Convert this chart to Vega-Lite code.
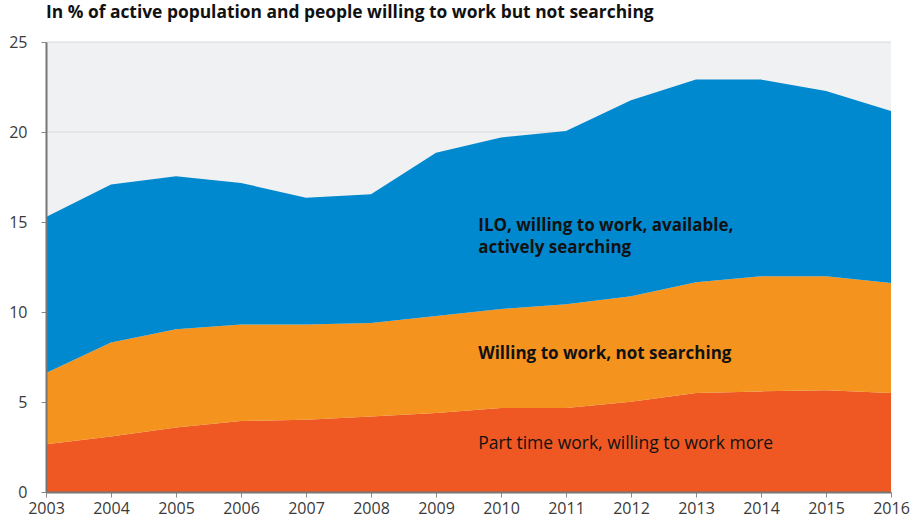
{
  "$schema": "https://vega.github.io/schema/vega-lite/v6.json",
  "autosize": {"type": "none"},
  "width": 845,
  "height": 450,
  "padding": {"left": 46, "top": 42, "right": 26, "bottom": 31},
  "background": "#ffffff",
  "config": {
    "font": "Open Sans",
    "view": {"fill": "#f0f1f3", "stroke": null}
  },
  "title": {
    "text": "In % of active population and people willing to work but not searching",
    "anchor": "start",
    "frame": "group",
    "font": "Open Sans",
    "fontSize": 17.4,
    "fontWeight": "bold",
    "color": "#111111",
    "offset": 13
  },
  "datasets": {
    "grid": [{"g": 5}, {"g": 10}, {"g": 15}, {"g": 20}, {"g": 25}],
    "labels": [
      {"label": "ILO, willing to work, available,", "lx": 2009.65, "ly": 14.8},
      {"label": "actively searching", "lx": 2009.65, "ly": 13.55},
      {"label": "Willing to work, not searching", "lx": 2009.65, "ly": 7.65}
    ],
    "labels2": [
      {"label": "Part time work, willing to work more", "lx": 2009.65, "ly": 2.65}
    ],
    "series": [
      {"year": 2003, "series": "Part time work, willing to work more", "rank": 1, "value": 2.65},
      {"year": 2004, "series": "Part time work, willing to work more", "rank": 1, "value": 3.09},
      {"year": 2005, "series": "Part time work, willing to work more", "rank": 1, "value": 3.59},
      {"year": 2006, "series": "Part time work, willing to work more", "rank": 1, "value": 3.94},
      {"year": 2007, "series": "Part time work, willing to work more", "rank": 1, "value": 4.02},
      {"year": 2008, "series": "Part time work, willing to work more", "rank": 1, "value": 4.2},
      {"year": 2009, "series": "Part time work, willing to work more", "rank": 1, "value": 4.39},
      {"year": 2010, "series": "Part time work, willing to work more", "rank": 1, "value": 4.67},
      {"year": 2011, "series": "Part time work, willing to work more", "rank": 1, "value": 4.67},
      {"year": 2012, "series": "Part time work, willing to work more", "rank": 1, "value": 5.02},
      {"year": 2013, "series": "Part time work, willing to work more", "rank": 1, "value": 5.5},
      {"year": 2014, "series": "Part time work, willing to work more", "rank": 1, "value": 5.59},
      {"year": 2015, "series": "Part time work, willing to work more", "rank": 1, "value": 5.65},
      {"year": 2016, "series": "Part time work, willing to work more", "rank": 1, "value": 5.5},
      {"year": 2003, "series": "Willing to work, not searching", "rank": 2, "value": 3.96},
      {"year": 2004, "series": "Willing to work, not searching", "rank": 2, "value": 5.21},
      {"year": 2005, "series": "Willing to work, not searching", "rank": 2, "value": 5.45},
      {"year": 2006, "series": "Willing to work, not searching", "rank": 2, "value": 5.36},
      {"year": 2007, "series": "Willing to work, not searching", "rank": 2, "value": 5.28},
      {"year": 2008, "series": "Willing to work, not searching", "rank": 2, "value": 5.19},
      {"year": 2009, "series": "Willing to work, not searching", "rank": 2, "value": 5.39},
      {"year": 2010, "series": "Willing to work, not searching", "rank": 2, "value": 5.5},
      {"year": 2011, "series": "Willing to work, not searching", "rank": 2, "value": 5.76},
      {"year": 2012, "series": "Willing to work, not searching", "rank": 2, "value": 5.85},
      {"year": 2013, "series": "Willing to work, not searching", "rank": 2, "value": 6.15},
      {"year": 2014, "series": "Willing to work, not searching", "rank": 2, "value": 6.39},
      {"year": 2015, "series": "Willing to work, not searching", "rank": 2, "value": 6.33},
      {"year": 2016, "series": "Willing to work, not searching", "rank": 2, "value": 6.11},
      {"year": 2003, "series": "ILO, willing to work, available, actively searching", "rank": 3, "value": 8.67},
      {"year": 2004, "series": "ILO, willing to work, available, actively searching", "rank": 3, "value": 8.79},
      {"year": 2005, "series": "ILO, willing to work, available, actively searching", "rank": 3, "value": 8.5},
      {"year": 2006, "series": "ILO, willing to work, available, actively searching", "rank": 3, "value": 7.87},
      {"year": 2007, "series": "ILO, willing to work, available, actively searching", "rank": 3, "value": 7.05},
      {"year": 2008, "series": "ILO, willing to work, available, actively searching", "rank": 3, "value": 7.15},
      {"year": 2009, "series": "ILO, willing to work, available, actively searching", "rank": 3, "value": 9.07},
      {"year": 2010, "series": "ILO, willing to work, available, actively searching", "rank": 3, "value": 9.53},
      {"year": 2011, "series": "ILO, willing to work, available, actively searching", "rank": 3, "value": 9.63},
      {"year": 2012, "series": "ILO, willing to work, available, actively searching", "rank": 3, "value": 10.89},
      {"year": 2013, "series": "ILO, willing to work, available, actively searching", "rank": 3, "value": 11.26},
      {"year": 2014, "series": "ILO, willing to work, available, actively searching", "rank": 3, "value": 10.93},
      {"year": 2015, "series": "ILO, willing to work, available, actively searching", "rank": 3, "value": 10.3},
      {"year": 2016, "series": "ILO, willing to work, available, actively searching", "rank": 3, "value": 9.56}
    ]
  },
  "layer": [
    {
      "data": {"name": "grid"},
      "mark": {"type": "rule", "color": "#d9dadd", "strokeWidth": 1},
      "encoding": {
        "y": {"field": "g", "type": "quantitative"}
      }
    },
    {
      "data": {"name": "series"},
      "mark": {"type": "area", "interpolate": "linear"},
      "encoding": {
        "x": {
          "field": "year",
          "type": "quantitative",
          "scale": {"domain": [2003, 2016], "nice": false, "zero": false},
          "axis": {
            "title": null,
            "format": "d",
            "values": [2003, 2004, 2005, 2006, 2007, 2008, 2009, 2010, 2011, 2012, 2013, 2014, 2015, 2016],
            "grid": false,
            "zindex": 1,
            "labelFlush": false,
            "labelFontSize": 16,
            "labelColor": "#3a3a3a",
            "labelPadding": 3,
            "domainColor": "#777777",
            "domainWidth": 2,
            "tickColor": "#888888",
            "tickSize": 5,
            "tickWidth": 1
          }
        },
        "y": {
          "field": "value",
          "type": "quantitative",
          "stack": "zero",
          "scale": {"domain": [0, 25], "nice": false},
          "axis": {
            "title": null,
            "values": [0, 5, 10, 15, 20, 25],
            "grid": false,
            "zindex": 1,
            "labelFontSize": 16,
            "labelColor": "#3a3a3a",
            "labelPadding": 14,
            "domainColor": "#777777",
            "domainWidth": 2,
            "tickColor": "#888888",
            "tickSize": 5,
            "tickWidth": 1
          }
        },
        "color": {
          "field": "series",
          "type": "nominal",
          "scale": {
            "domain": ["Part time work, willing to work more", "Willing to work, not searching", "ILO, willing to work, available, actively searching"],
            "range": ["#ef5823", "#f5931f", "#0089cf"]
          },
          "legend": null
        },
        "order": {"field": "rank", "type": "quantitative"}
      }
    },
    {
      "data": {"name": "labels"},
      "mark": {"type": "text", "align": "left", "baseline": "middle", "fontSize": 17, "fontWeight": "bold", "color": "#111111", "font": "Open Sans"},
      "encoding": {
        "x": {"field": "lx", "type": "quantitative"},
        "y": {"field": "ly", "type": "quantitative"},
        "text": {"field": "label"}
      }
    },
    {
      "data": {"name": "labels2"},
      "mark": {"type": "text", "align": "left", "baseline": "middle", "fontSize": 17.5, "fontWeight": 400, "color": "#111111", "font": "Open Sans"},
      "encoding": {
        "x": {"field": "lx", "type": "quantitative"},
        "y": {"field": "ly", "type": "quantitative"},
        "text": {"field": "label"}
      }
    }
  ]
}
